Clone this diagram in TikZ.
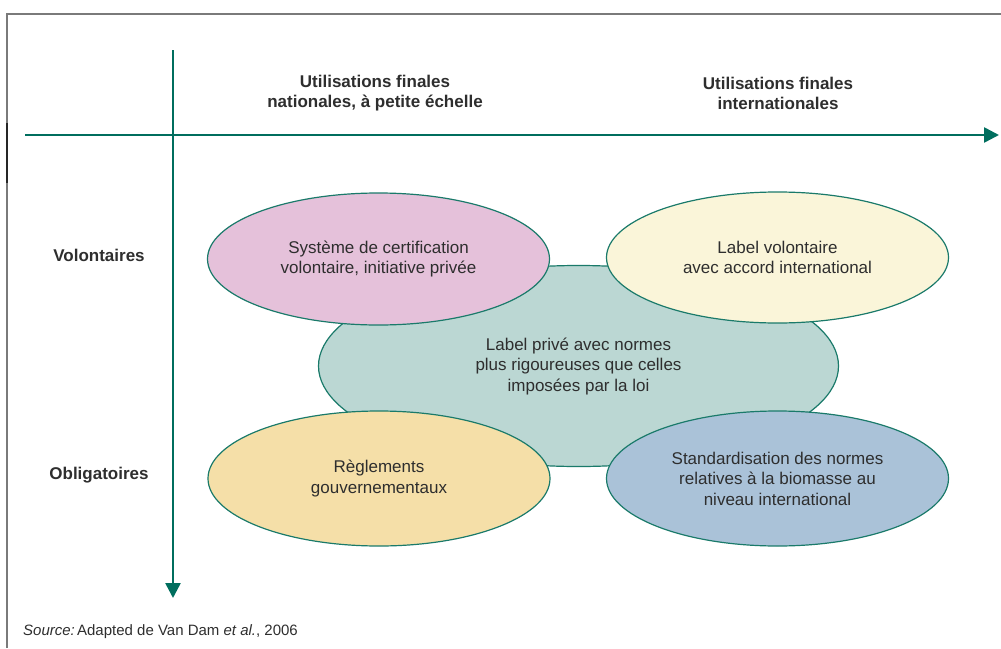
\documentclass[tikz,border=0pt]{standalone}
\usepackage{fontspec}
\setmainfont{Liberation Sans}
\usetikzlibrary{arrows.meta,shapes.geometric}

\definecolor{axisgreen}{HTML}{006E5E}
\definecolor{edgegreen}{HTML}{1A7A6A}
\definecolor{framegray}{HTML}{7A7A7A}
\definecolor{txt}{HTML}{2E2E2E}
\definecolor{pinkfill}{HTML}{E5C1DA}
\definecolor{creamfill}{HTML}{FAF5D9}
\definecolor{tealfill}{HTML}{BBD7D3}
\definecolor{sandfill}{HTML}{F5DFA8}
\definecolor{bluefill}{HTML}{AAC2D8}

\tikzset{
  axis/.style={draw=axisgreen, line width=2.6pt, -{Triangle[length=15pt,width=15pt]}},
  bubble/.style={ellipse, draw=edgegreen, line width=1.2pt, inner sep=0pt,
    text=txt, align=center, font=\fontsize{17}{20.5}\selectfont},
  heading/.style={text=txt, align=center, font=\fontsize{17}{20}\selectfont\bfseries},
  rowlabel/.style={text=txt, font=\fontsize{17}{20}\selectfont\bfseries},
}

\begin{document}
\begin{tikzpicture}[x=1pt,y=-1pt]
\useasboundingbox (0,0) rectangle (1001,648);

% outer frame
\draw[framegray, line width=1.6pt] (7,648) -- (7,14) -- (1001,14);
\draw[black!85, line width=1.6pt] (7,123) -- (7,183);

% axes
\coordinate (hstart) at (25,135);
\coordinate (hend) at (999,135);
\coordinate (vstart) at (173,50);
\coordinate (vend) at (173,598);
\draw[axis] (hstart) -- (hend);
\draw[axis] (vstart) -- (vend);

% column headings
\node[heading] (colnat) at (375,93) {Utilisations finales\\nationales, à petite échelle};
\node[heading] (colint) at (778,93) {Utilisations finales\\internationales};

% row labels
\node[rowlabel] (rowvol) at (99,255) {Volontaires};
\node[rowlabel] (rowobl) at (99,475) {Obligatoires};

% central label, drawn first so the others overlap it
\node[bubble, fill=tealfill, minimum width=520pt, minimum height=201pt] (central) at (578.5,366)
  {Label privé avec normes\\plus rigoureuses que celles\\imposées par la loi};

\node[bubble, fill=pinkfill, minimum width=342pt, minimum height=132pt] (certif) at (378.5,259)
  {Système de certification\\volontaire, initiative privée};
\node[bubble, fill=creamfill, minimum width=342pt, minimum height=131pt] (volint) at (777.5,257.5)
  {Label volontaire\\avec accord international};
\node[bubble, fill=sandfill, minimum width=342pt, minimum height=135pt] (gouv) at (379,478.5)
  {Règlements\\gouvernementaux};
\node[bubble, fill=bluefill, minimum width=342pt, minimum height=135pt] (standard) at (777.5,478.5)
  {Standardisation des normes\\relatives à la biomasse au\\niveau international};

% source line
\node[anchor=west, text=txt, font=\fontsize{15}{17}\selectfont, inner sep=0pt] (source) at (23,632)
  {\textit{Source:}\hspace{0.15em}Adapted de Van Dam \textit{et al.}, 2006};
\end{tikzpicture}
\end{document}
